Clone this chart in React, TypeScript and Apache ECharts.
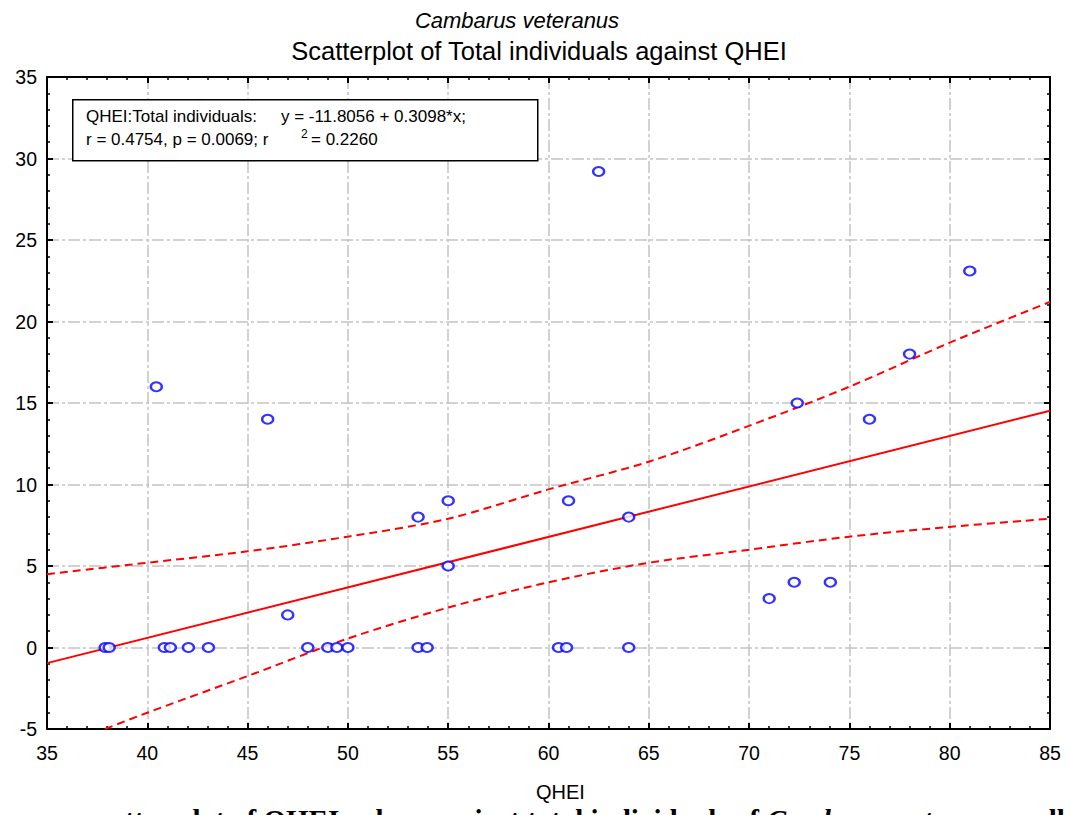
import React, { useEffect, useRef } from "react";
import * as echarts from "echarts";

// Observed points (QHEI, total individuals)
const qhei = [37.9, 38.1, 40.45, 40.85, 41.15, 42.05, 43.05, 46.0, 47.0, 48.0, 49.0, 49.45, 50.0, 53.5, 53.5, 53.95, 55.0, 55.0, 60.5, 60.9, 61.0, 62.5, 64.0, 64.0, 71.0, 72.25, 72.4, 74.05, 76.0, 78.0, 81.0];
const totalIndividuals = [0, 0, 16, 0, 0, 0, 0, 14, 2, 0, 0, 0, 0, 8, 0, 0, 9, 5, 0, 0, 9, 29.2, 8, 0, 3, 4, 15, 4, 14, 18, 23.1];

// Fitted line endpoints (y = -11.8056 + 0.3098*x) read at the axis ends
const fitX = [35, 85];
const fitY = [-0.96, 14.53];

// 95% confidence band
const upperX = [35, 40, 45, 50, 55, 60, 65, 70, 75, 80, 85];
const upperY = [4.5, 5.2, 5.9, 6.8, 7.9, 9.7, 11.4, 13.6, 16.0, 18.7, 21.2];
const lowerX = [37.9, 40, 45, 50, 55, 60, 65, 70, 75, 80, 85];
const lowerY = [-5.0, -4.0, -1.75, 0.55, 2.45, 4.0, 5.2, 6.0, 6.8, 7.4, 7.9];

const xTicks = { min: 35, max: 85, interval: 5 };
const yTicks = { min: -5, max: 35, interval: 5 };

const FONT = "'Liberation Sans', Arial, sans-serif";
const SERIF = "'Liberation Serif', 'Times New Roman', serif";

const zip = (xs: number[], ys: number[]) => xs.map((x, i) => [x, ys[i]]);

export default function App() {
  const ref = useRef<HTMLDivElement>(null);
  useEffect(() => {
    if (!ref.current) return;
    const chart = echarts.init(ref.current, null, { renderer: "svg" });
    const gridLine = { show: true, lineStyle: { color: "#c4c4c4", width: 1.5, type: [12, 3, 3, 3] } };
    const baseAxis = (pos: string, show: boolean) => ({
      type: "value",
      position: pos,
      axisLine: { show: true, onZero: false, lineStyle: { color: "#000", width: 2 } },
      axisTick: { show: true, inside: true, length: 6, lineStyle: { color: "#000", width: 2 } },
      minorTick: { show: true, splitNumber: 5, length: 3, lineStyle: { color: "#000", width: 1.5 } },
      axisLabel: { show, color: "#000", fontSize: 19.5, fontFamily: FONT, margin: 14 },
    });
    const legendText = (text: string, left: number, top: number, size = 17) => ({
      type: "text", left, top, z: 11,
      style: { text, fontSize: size, fontFamily: FONT, fill: "#000" },
    });
    chart.setOption({
      animation: false,
      backgroundColor: "#fff",
      title: [
        { text: "Cambarus veteranus", left: 512, top: 4, textAlign: "center",
          textStyle: { fontSize: 22, fontStyle: "italic", fontWeight: "normal", fontFamily: FONT, color: "#000" } },
        { text: "Scatterplot of Total individuals against QHEI", left: 534, top: 33, textAlign: "center",
          textStyle: { fontSize: 25.5, fontWeight: "normal", fontFamily: FONT, color: "#000" } },
      ],
      grid: { left: 47, right: 20, top: 77, bottom: 86 },
      xAxis: [
        { ...baseAxis("bottom", true), ...xTicks, splitLine: gridLine },
        { ...baseAxis("top", false), ...xTicks, splitLine: { show: false } },
      ],
      yAxis: [
        { ...baseAxis("left", true), ...yTicks, splitLine: gridLine,
          axisLabel: { color: "#000", fontSize: 19.5, fontFamily: FONT, margin: 10 } },
        { ...baseAxis("right", false), ...yTicks, splitLine: { show: false } },
      ],
      series: [
        { type: "line", data: zip(upperX, upperY), symbol: "none", smooth: 0.3, clip: true,
          lineStyle: { color: "#ff0000", width: 2, type: [8, 5] } },
        { type: "line", data: zip(lowerX, lowerY), symbol: "none", smooth: 0.3, clip: true,
          lineStyle: { color: "#ff0000", width: 2, type: [8, 5] } },
        { type: "line", data: zip(fitX, fitY), symbol: "none", clip: true,
          lineStyle: { color: "#ff0000", width: 2 } },
        { type: "scatter", data: zip(qhei, totalIndividuals), symbol: "circle", symbolSize: [11, 9],
          itemStyle: { color: "#fff", borderColor: "#0000ff", borderWidth: 2.2 }, z: 5 },
      ],
      graphic: [
        { type: "rect", left: 72, top: 99, shape: { width: 465, height: 61 },
          style: { fill: "#fff", stroke: "#000", lineWidth: 1.5 }, z: 10 },
        legendText("QHEI:Total individuals:", 86, 108),
        legendText("y = -11.8056 + 0.3098*x;", 281, 108),
        legendText("r = 0.4754, p = 0.0069; r", 86, 131),
        legendText("2", 301, 127.5, 12),
        legendText("= 0.2260", 311, 131),
        { type: "text", left: 536, top: 782, z: 11,
          style: { text: "QHEI", fontSize: 20, fontFamily: FONT, fill: "#000", align: "center" } },
        { type: "text", left: 86, top: 805, z: 1,
          style: {
            text: "scatter plot of QHEI values against total individuals of {i|Cambarus veteranus} coll",
            fontSize: 29, fontWeight: "bold", fontFamily: SERIF, fill: "#000",
            rich: { i: { fontSize: 29, fontStyle: "italic", fontWeight: "bold", fontFamily: SERIF } },
          } },
      ],
    });
    return () => chart.dispose();
  }, []);
  return (
    <div
      ref={ref}
      style={{ position: "fixed", left: 0, top: 0, width: 1070, height: 815, background: "#fff" }}
    />
  );
}
